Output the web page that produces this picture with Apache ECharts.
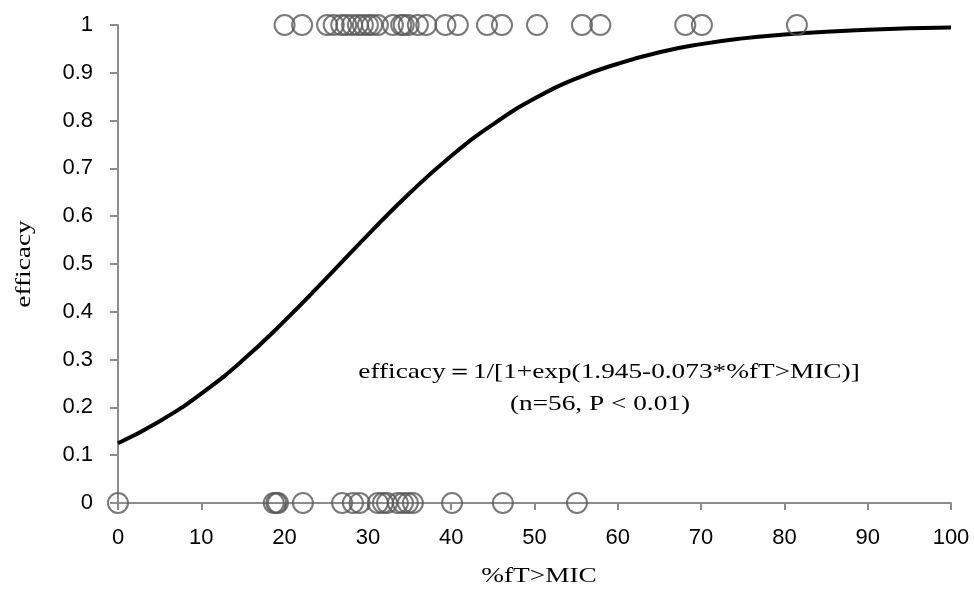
<!DOCTYPE html>
<html lang="en">
<head>
	<meta charset="UTF-8">
	<title>efficacy vs %fT>MIC</title>
	<style>
		html, body { margin: 0; padding: 0; background: #fff; }
	</style>
</head>
<body>
	<div id="main" style="width: 974px;height:590px;"></div>
</body>
</html>

<script src='https://cdn.jsdelivr.net/npm/echarts@6/dist/echarts.min.js'></script>
<script>

		// observed outcomes (efficacy = 1 on top row, 0 on bottom row)
		var successX = [20.0, 22.1, 25.1, 25.9, 26.8, 27.4, 28.1, 28.8, 29.4, 30.0, 30.5, 31.2,
			33.0, 34.0, 34.3, 34.9, 36.0, 37.0, 39.3, 40.8, 44.3, 46.1, 50.3, 55.7, 57.9,
			68.1, 70.1, 81.5];
		var failureX = [0, 18.7, 19.0, 19.2, 22.2, 26.9, 28.2, 29.0, 31.2, 31.8, 32.3, 33.6,
			34.2, 34.8, 35.4, 40.1, 46.2, 55.1];

		// fitted logistic curve
		var curveX = [0, 5, 10, 15, 20, 25, 30, 35, 40, 45, 50, 55, 60, 65, 70, 75, 80, 85, 90, 95, 100];
		var curveY = [0.125, 0.171, 0.229, 0.299, 0.381, 0.470, 0.561, 0.648, 0.726, 0.792, 0.846,
			0.888, 0.919, 0.943, 0.960, 0.972, 0.980, 0.986, 0.990, 0.993, 0.995];

		var xTicks = [0, 10, 20, 30, 40, 50, 60, 70, 80, 90, 100];
		var yTicks = [0, 0.1, 0.2, 0.3, 0.4, 0.5, 0.6, 0.7, 0.8, 0.9, 1];

		var myChart = echarts.init(document.getElementById('main'));

		var axisGray = '#8c8c8c';
		var serif = '"Liberation Serif", "Times New Roman", serif';
		var circleStyle = {
			color: 'rgba(0,0,0,0)',
			borderColor: '#595959',
			borderWidth: 2
		};

		function label(text, x, y, opts) {
			var el = {
				type: 'text',
				x: x,
				y: y,
				scaleX: 1.24,
				style: {
					text: text,
					font: '22px ' + serif,
					fill: '#000',
					textAlign: 'center',
					textVerticalAlign: 'middle'
				}
			};
			return Object.assign(el, opts || {});
		}

		var option = {
			animation: false,
			grid: { left: 118, right: 23, top: 25, bottom: 87 },
			xAxis: {
				type: 'value',
				min: xTicks[0],
				max: xTicks[xTicks.length - 1],
				interval: 10,
				axisLine: { onZero: false, lineStyle: { color: axisGray, width: 2 } },
				axisTick: { show: true, length: 7, lineStyle: { color: axisGray, width: 2 } },
				axisLabel: { fontFamily: 'Liberation Sans', fontSize: 22, color: '#000', margin: 24 },
				splitLine: { show: false }
			},
			yAxis: {
				type: 'value',
				min: yTicks[0],
				max: yTicks[yTicks.length - 1],
				interval: 0.1,
				axisLine: { show: true, onZero: false, lineStyle: { color: axisGray, width: 2 } },
				axisTick: { show: true, length: 8, lineStyle: { color: axisGray, width: 2 } },
				axisLabel: {
					fontFamily: 'Liberation Sans', fontSize: 22, color: '#000', margin: 25,
					formatter: function (v) { return String(Math.round(v * 10) / 10); }
				},
				splitLine: { show: false }
			},
			graphic: [
				label('%fT>MIC', 539, 576),
				label('efficacy', 24, 264, { rotation: Math.PI / 2 }),
				label('efficacy\uFF1D1/[1+exp(1.945-0.073*%fT>MIC)]', 609, 372),
				label('(n=56, P < 0.01)', 600, 404)
			],
			series: [{
				name: 'fit',
				type: 'line',
				smooth: true,
				showSymbol: false,
				z: 1,
				lineStyle: { color: '#000', width: 4 },
				data: curveX.map(function (x, i) { return [x, curveY[i]]; })
			}, {
				name: 'efficacy 1',
				type: 'scatter',
				symbol: 'circle',
				symbolSize: 20,
				z: 2,
				itemStyle: circleStyle,
				data: successX.map(function (x) { return [x, 1]; })
			}, {
				name: 'efficacy 0',
				type: 'scatter',
				symbol: 'circle',
				symbolSize: 20,
				z: 2,
				itemStyle: circleStyle,
				data: failureX.map(function (x) { return [x, 0]; })
			}]
		};
		myChart.setOption(option);

	</script>
